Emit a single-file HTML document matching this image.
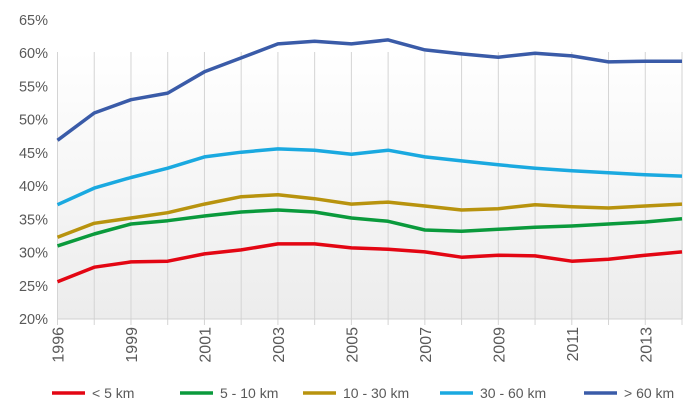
<!DOCTYPE html>
<html><head><meta charset="utf-8"><style>
html,body{margin:0;padding:0;background:#fff;width:700px;height:419px;overflow:hidden}
text{font-family:"Liberation Sans",sans-serif;fill:#595959}
</style></head><body>
<svg id="chart" width="700" height="419" viewBox="0 0 700 419" xmlns="http://www.w3.org/2000/svg">
<defs><linearGradient id="bg" x1="0" y1="0" x2="0" y2="1"><stop offset="0" stop-color="#ffffff"/><stop offset="1" stop-color="#ececec"/></linearGradient></defs>
<rect x="57" y="52" width="626" height="267" fill="url(#bg)"/>
<g id="grid"></g><g id="axes"></g><g id="series"></g><g id="legend"></g>
</svg>
<script>
const years=["1996","1998","1999","2000","2001","2002","2003","2004","2005","2006","2007","2008","2009","2010","2011","2012","2013","2014"];
const shownLabels=["1996","","1999","","2001","","2003","","2005","","2007","","2009","","2011","","2013",""];
const yTicks=[20,25,30,35,40,45,50,55,60,65];
const seriesNames=["< 5 km","5 - 10 km","10 - 30 km","30 - 60 km","> 60 km"];
const seriesColors=["#e30613","#0a9a3c","#b8930e","#1aa9e0","#3a5ba8"];
const lt5=[25.6,27.8,28.6,28.7,29.8,30.4,31.3,31.3,30.7,30.5,30.1,29.3,29.6,29.5,28.7,29.0,29.6,30.1];
const s5to10=[31.0,32.8,34.3,34.8,35.5,36.1,36.4,36.1,35.2,34.7,33.4,33.2,33.5,33.8,34.0,34.3,34.6,35.1];
const s10to30=[32.3,34.4,35.2,36.0,37.3,38.4,38.7,38.1,37.3,37.6,37.0,36.4,36.6,37.2,36.9,36.7,37.0,37.3];
const s30to60=[37.2,39.7,41.3,42.7,44.4,45.1,45.6,45.4,44.8,45.4,44.4,43.8,43.2,42.7,42.3,42.0,41.7,41.5];
const gt60=[46.9,51.0,53.0,54.0,57.2,59.3,61.4,61.8,61.4,62.0,60.5,59.9,59.4,60.0,59.6,58.7,58.8,58.8];
const allSeries=[lt5,s5to10,s10to30,s30to60,gt60];
const NS="http://www.w3.org/2000/svg";
const X0=57.5,X1=682,Y0=319,Y1=20,VMIN=20,VMAX=65;
function xPos(i){return X0+(X1-X0)*i/(years.length-1);}
function yPos(v){return Y0+(Y1-Y0)*(v-VMIN)/(VMAX-VMIN);}
function mk(tag,attrs,parent){const e=document.createElementNS(NS,tag);for(const k in attrs)e.setAttribute(k,attrs[k]);parent.appendChild(e);return e;}
const grid=document.getElementById('grid'),axes=document.getElementById('axes'),ser=document.getElementById('series'),leg=document.getElementById('legend');
years.forEach((y,i)=>{
  const l=mk('line',{x1:xPos(i),x2:xPos(i),y1:52,y2:325,stroke:'#d4d4d4','stroke-width':1},grid);
  
  
  if(shownLabels[i]){
    const t=mk('text',{transform:`translate(${xPos(i)+6},327) rotate(-90)`,'font-size':16,'text-anchor':'end'},axes);
    t.textContent=shownLabels[i];
    
    
  }
});
const base=mk('line',{x1:X0,x2:X1,y1:Y0,y2:Y0,stroke:'#d0d0d0','stroke-width':1},axes);


yTicks.forEach(v=>{
  const t=mk('text',{x:48,y:yPos(v)+5,'font-size':14.5,'text-anchor':'end'},axes);
  t.textContent=v+'%';
  
  
});
allSeries.forEach((vals,s)=>{
  const pts=vals.map((v,i)=>xPos(i).toFixed(1)+','+yPos(v).toFixed(1)).join(' ');
  const p=mk('polyline',{points:pts,fill:'none',stroke:seriesColors[s],'stroke-width':3.5,'stroke-linejoin':'round'},ser);
  
  
});
const legX=[52,180,303,440,584];
seriesNames.forEach((n,s)=>{
  const g=mk('g',{},leg);
  
  
  mk('line',{x1:legX[s],x2:legX[s]+33,y1:393,y2:393,stroke:seriesColors[s],'stroke-width':3.5},g);
  const t=mk('text',{x:legX[s]+40,y:398,'font-size':14},g);
  t.textContent=n;
});
</script>
</body></html>
